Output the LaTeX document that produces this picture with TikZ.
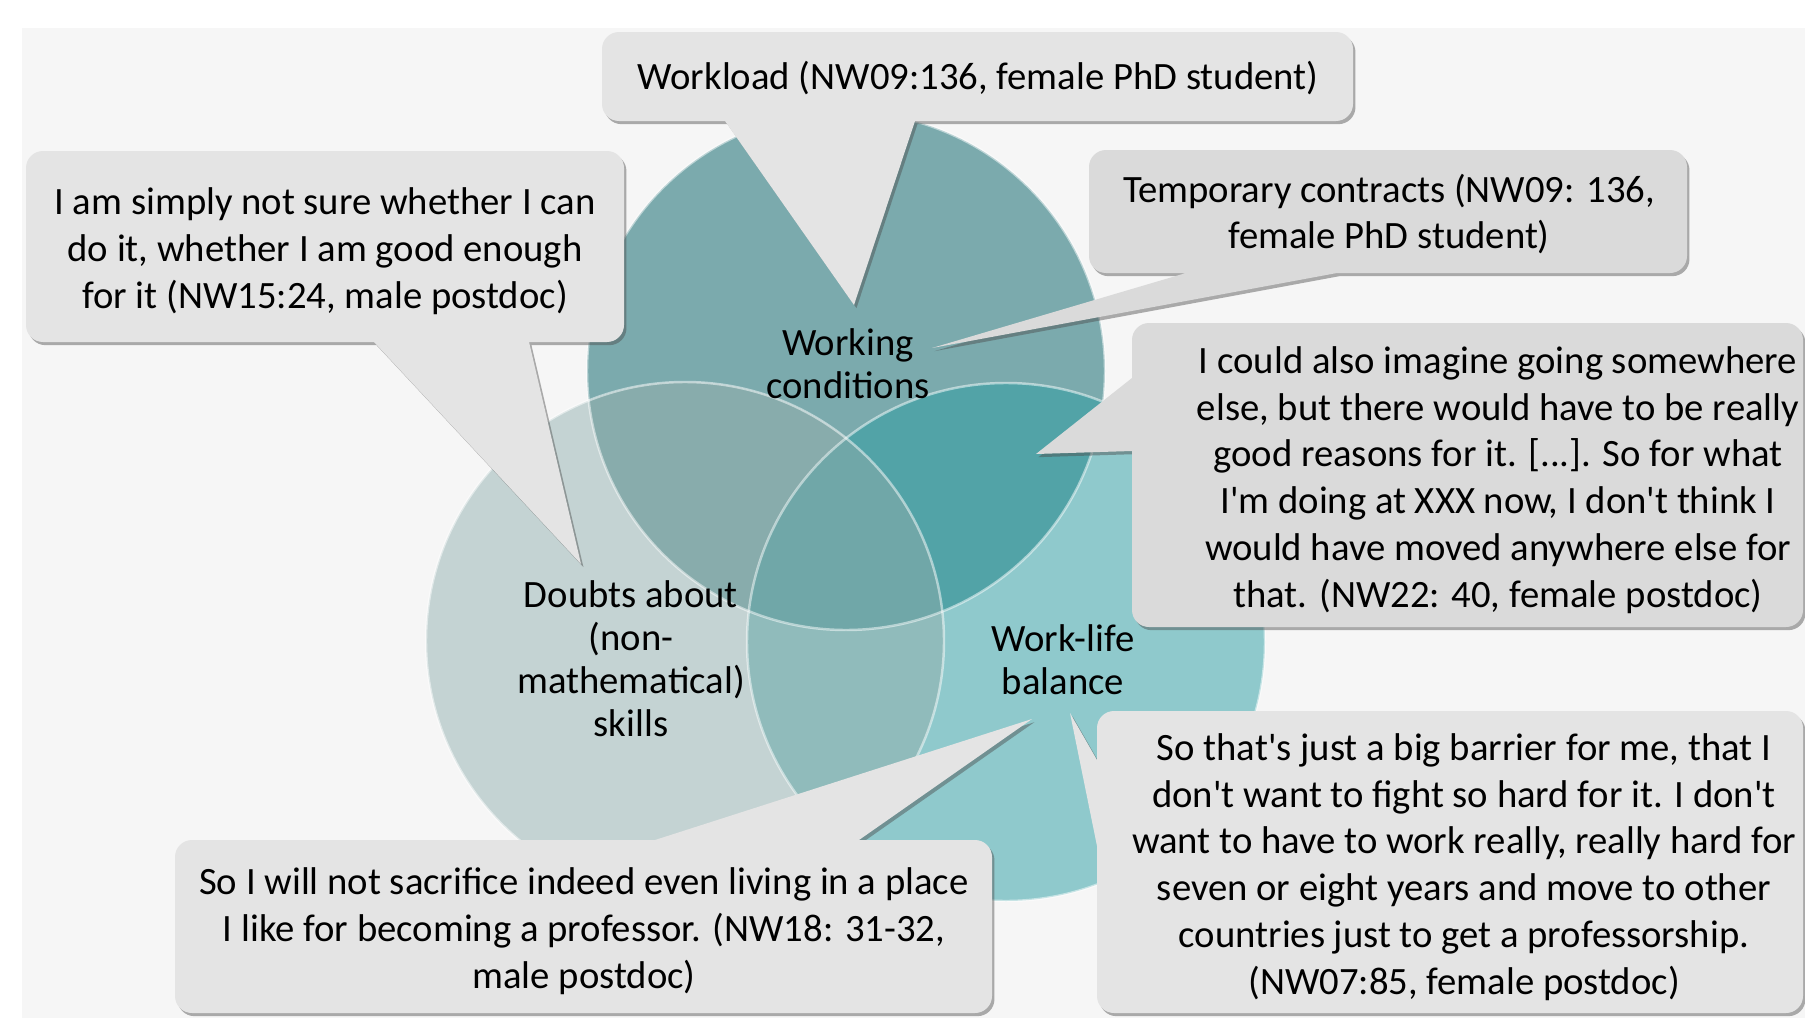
\documentclass[tikz,border=0pt]{standalone}
\usepackage{fontspec}
\setmainfont{Carlito}[Ligatures=TeXOff]
\usepackage{tikz}
\usetikzlibrary{shadows}

\definecolor{panel}{HTML}{F6F6F6}
\definecolor{bubblelight}{HTML}{E4E4E4}
\definecolor{bubbledark}{HTML}{DADADA}
\definecolor{workc}{HTML}{7BAAAD}
\definecolor{doubts}{HTML}{C4D3D3}
\definecolor{worklife}{HTML}{8FC9CC}
\definecolor{wcdoubts}{HTML}{88ACAC}
\definecolor{wcworklife}{HTML}{52A3A7}
\definecolor{doubtswl}{HTML}{90BBBB}
\definecolor{allthree}{HTML}{70A7A8}

\tikzstyle{bubble} = [fill=bubblelight, drop shadow={shadow xshift=0.7pt, shadow yshift=-0.9pt, opacity=.45, fill=black!70}]
\tikzstyle{quote} = [align=center, inner sep=0pt, font=\fontsize{11}{13.3}\selectfont]
\tikzstyle{setlabel} = [align=center, inner sep=0pt, font=\fontsize{11}{12.2}\selectfont]
\tikzstyle{rim} = [draw=white, draw opacity=.5, line width=0.7pt]

\begin{document}
\begin{tikzpicture}[x=0.01cm, y=-0.01cm]
  \useasboundingbox (0,0) rectangle (1805,1018);
  \fill[white] (0,0) rectangle (1805,1018);
  \fill[panel] (22,28) rectangle (1805,1018);

  % the three sets
  \def\rad{259}
  \coordinate (wcc) at (846,371);
  \coordinate (dmc) at (685,641);
  \coordinate (wlc) at (1006,642);
  \fill[workc] (wcc) circle[radius=\rad];
  \fill[doubts] (dmc) circle[radius=\rad];
  \fill[worklife] (wlc) circle[radius=\rad];
  \begin{scope}
    \clip (dmc) circle[radius=\rad];
    \fill[doubtswl] (wlc) circle[radius=\rad];
  \end{scope}
  \begin{scope}
    \clip (wcc) circle[radius=\rad];
    \fill[wcdoubts] (dmc) circle[radius=\rad];
    \fill[wcworklife] (wlc) circle[radius=\rad];
    \clip (dmc) circle[radius=\rad];
    \fill[allthree] (wlc) circle[radius=\rad];
  \end{scope}
  \draw[rim] (wcc) circle[radius=\rad];
  \draw[rim] (dmc) circle[radius=\rad];
  \draw[rim] (wlc) circle[radius=\rad];

  \node[setlabel] (wc) at (848,364) {Working\\conditions};
  \node[setlabel] (dm) at (631,659) {Doubts about\\(non-\\mathematical)\\skills};
  \node[setlabel] (wl) at (1063,660) {Work-life\\balance};

  % pointer tips
  \coordinate (t1) at (854,305);
  \coordinate (t2) at (581,564);
  \coordinate (t3) at (932,348);
  \coordinate (t4) at (1036,454);
  \coordinate (t5) at (1032,719);
  \coordinate (t6) at (1070,713);

  % speech bubbles
  \path[bubble] (977,32) [rounded corners=.17cm] -- (1353,32) -- (1353,121) [sharp corners] -- (915,121)
    -- (t1) -- (725,121) [rounded corners=.17cm] -- (602,121) -- (602,32) -- cycle;
  \path[bubble] (326,151) [rounded corners=.17cm] -- (624,151) -- (624,342) [sharp corners] -- (529,342)
    -- (t2) -- (374,342) [rounded corners=.17cm] -- (26,342) -- (26,151) -- cycle;
  \path[bubble, fill=bubbledark] (1388,150) [rounded corners=.17cm] -- (1687,150) -- (1687,273) [sharp corners] -- (1337,273)
    -- (t3) -- (1186,273) [rounded corners=.17cm] -- (1089,273) -- (1089,150) -- cycle;
  \path[bubble, fill=bubbledark] (1498,323) [rounded corners=.17cm] -- (1803,323) -- (1803,627) -- (1132,627) [sharp corners] -- (1132,451)
    -- (t4) -- (1132,378) [rounded corners=.17cm] -- (1132,323) -- cycle;
  \path[bubble] (584,840) -- (655,840) -- (t5) -- (859,840) [rounded corners=.17cm] -- (992,840)
    -- (992,1013) -- (175,1013) -- (175,840) -- cycle;
  \path[bubble] (1450,711) [rounded corners=.17cm] -- (1803,711) -- (1803,1013) -- (1097,1013) [sharp corners] -- (1097,846)
    -- (t6) -- (1097,760) [rounded corners=.17cm] -- (1097,711) -- cycle;

  \node[quote] (q1) at (978,78) {Workload (NW09:136, female PhD student)};
  \node[quote] (q2) at (325,251) {I am simply not sure whether I can\\do it, whether I am good enough\\for it (NW15:24, male postdoc)};
  \node[quote] (q3) at (1389,214) {Temporary contracts (NW09: 136,\\female PhD student)};
  \node[quote] (q4) at (1498,480) {I could also imagine going somewhere\\else, but there would have to be really\\good reasons for it. [...]. So for what\\I'm doing at XXX now, I don't think I\\would have moved anywhere else for\\that. (NW22: 40, female postdoc)};
  \node[quote] (q5) at (584,931) {So I will not sacrifice indeed even living in a place\\I like for becoming a professor. (NW18: 31-32,\\male postdoc)};
  \node[quote] (q6) at (1464,867) {So that's just a big barrier for me, that I\\don't want to fight so hard for it. I don't\\want to have to work really, really hard for\\seven or eight years and move to other\\countries just to get a professorship.\\(NW07:85, female postdoc)};
\end{tikzpicture}
\end{document}
